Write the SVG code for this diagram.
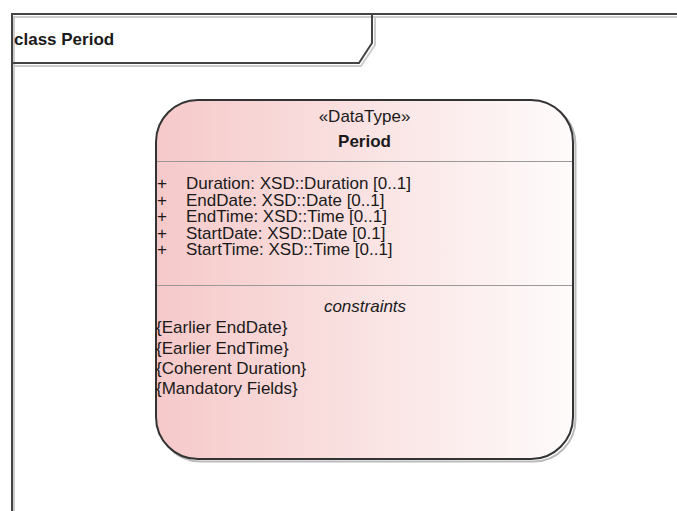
<svg xmlns="http://www.w3.org/2000/svg" width="677" height="511" viewBox="0 0 677 511">
<style>
.t{font-family:"Liberation Sans",Arial,sans-serif;font-size:17px;fill:#1a1a1a}
.b{font-weight:bold}
.i{font-style:italic}
.frame{fill:none;stroke:#444;stroke-width:2}
.shadow{fill:none;stroke:#ccc;stroke-width:2}
.sep{stroke:#999;stroke-width:1.2}
</style>
<defs>
<linearGradient id="g" x1="0" y1="0" x2="1" y2="0">
<stop offset="0" stop-color="#f6c9c9"/>
<stop offset="1" stop-color="#fefbfb"/>
</linearGradient>
</defs>
<rect width="677" height="511" fill="#fff"/>
<g id="frame">
<path class="shadow" d="M14 514 V17 H677"/>
<path class="shadow" d="M14 66 H361 L375 45 V17"/>
<path class="frame" d="M12 511 V14 H677"/>
<path class="frame" d="M12 63 H359 L372 43 V14"/>
<text class="t b" x="14" y="45">class Period</text>
</g>
<g id="Period">
<rect x="158.5" y="102.5" width="417" height="359" rx="42" fill="none" stroke="#bbb" stroke-width="2"/>
<rect x="156" y="100" width="417" height="359" rx="42" fill="url(#g)" stroke="#333" stroke-width="2"/>
<text class="t" x="364.5" y="122" text-anchor="middle">«DataType»</text>
<text class="t b" x="364.5" y="147" text-anchor="middle">Period</text>
<line class="sep" x1="157" y1="161.5" x2="572" y2="161.5"/>
<text class="t" x="157" y="189">+</text>
<text class="t" x="186" y="189">Duration: XSD::Duration [0..1]</text>
<text class="t" x="157" y="205.5">+</text>
<text class="t" x="186" y="205.5">EndDate: XSD::Date [0..1]</text>
<text class="t" x="157" y="222">+</text>
<text class="t" x="186" y="222">EndTime: XSD::Time [0..1]</text>
<text class="t" x="157" y="238.5">+</text>
<text class="t" x="186" y="238.5">StartDate: XSD::Date [0.1]</text>
<text class="t" x="157" y="255">+</text>
<text class="t" x="186" y="255">StartTime: XSD::Time [0..1]</text>
<line class="sep" x1="157" y1="285.5" x2="572" y2="285.5"/>
<text class="t i" x="365" y="312" text-anchor="middle">constraints</text>
<text class="t" x="156" y="333">{Earlier EndDate}</text>
<text class="t" x="156" y="354">{Earlier EndTime}</text>
<text class="t" x="156" y="374">{Coherent Duration}</text>
<text class="t" x="156" y="394">{Mandatory Fields}</text>
</g>
<g id="connectors"/>
</svg>
